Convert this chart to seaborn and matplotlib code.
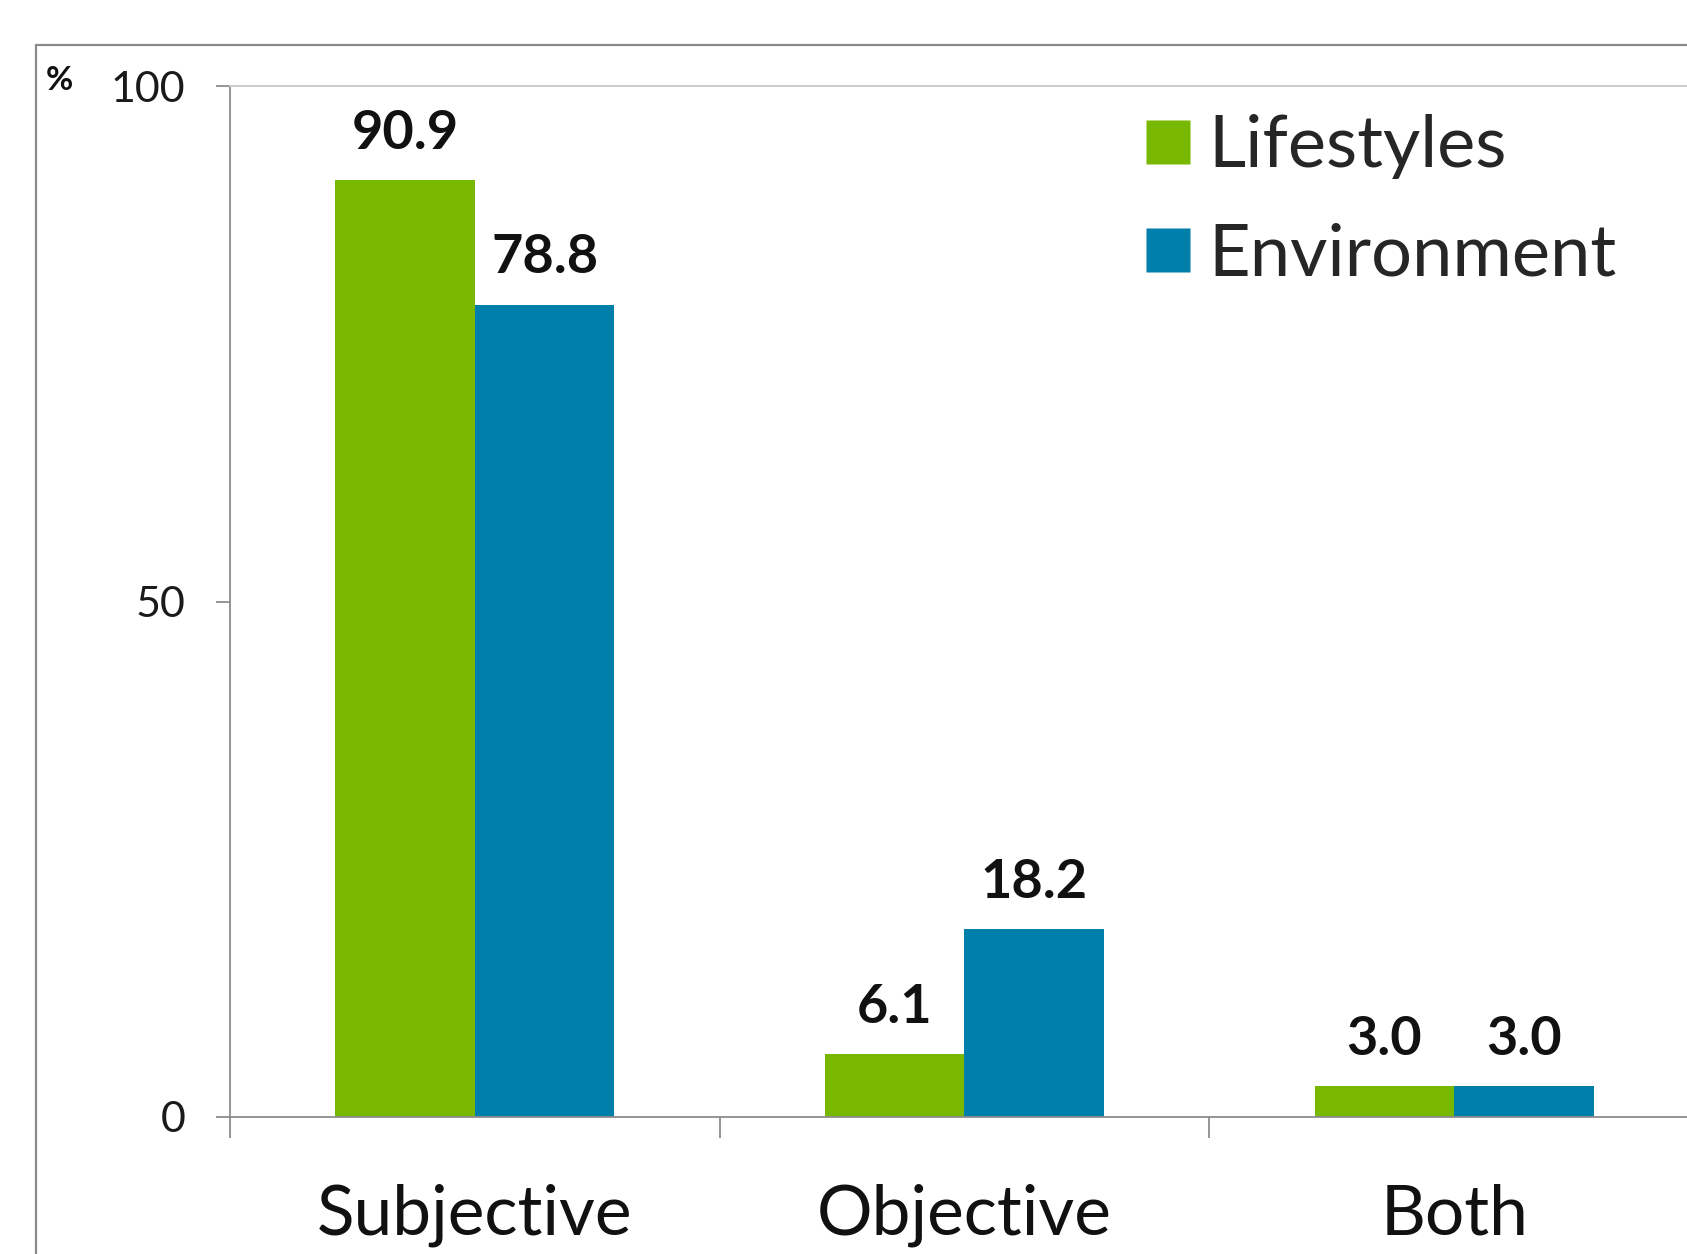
import matplotlib
matplotlib.use("Agg")
import matplotlib.pyplot as plt
from matplotlib.patches import Rectangle
from matplotlib.lines import Line2D
import seaborn as sns
import pandas as pd

categories = ["Subjective", "Objective", "Both"]
series = ["Lifestyles", "Environment"]
lifestyles = [90.9, 6.1, 3.0]
environment = [78.8, 18.2, 3.0]
y_ticks = [0, 50, 100]

colors = {"Lifestyles": "#78b800", "Environment": "#007fab"}

df = pd.DataFrame({
    "category": categories * 2,
    "group": [series[0]] * 3 + [series[1]] * 3,
    "value": lifestyles + environment,
})

sns.set_theme(style="white")
plt.rcParams["font.family"] = ["Lato", "DejaVu Sans"]

W, H = 1687, 1254
fig = plt.figure(figsize=(W / 100, H / 100), dpi=100)
ax = fig.add_axes([230 / W, 1 - 1117 / H, (1699 - 230) / W, (1117 - 86) / H])

sns.barplot(data=df, x="category", y="value", hue="group", order=categories,
            hue_order=series, palette=colors, width=0.57, saturation=1,
            edgecolor="none", linewidth=0, ax=ax, legend=False)

for cont in ax.containers:
    ax.bar_label(cont, fmt="%.1f", padding=16, fontsize=39, fontweight="bold",
                 color="#111111")

ax.set_ylim(0, 100)
ax.set_xlim(-0.5, 2.5)
ax.set_yticks(y_ticks)
ax.set_yticklabels([str(v) for v in y_ticks])
ax.set_xlabel("")
ax.set_ylabel("")

gray = "#8c8c8c"
for side in ["left", "bottom"]:
    ax.spines[side].set_visible(True)
    ax.spines[side].set_color(gray)
    ax.spines[side].set_linewidth(1.3)
ax.spines["top"].set_visible(True)
ax.spines["top"].set_color("#c8c8c8")
ax.spines["top"].set_linewidth(1.3)
ax.spines["right"].set_visible(False)

ax.tick_params(axis="y", which="major", direction="out", length=10, width=1.3,
               color=gray, pad=22, labelsize=31, labelcolor="#1a1a1a", left=True)
ax.set_xticks([0, 1, 2])
ax.set_xticks([-0.5, 0.5, 1.5], minor=True)
ax.tick_params(axis="x", which="major", length=0, pad=48, labelsize=50,
               labelcolor="#111111")
ax.tick_params(axis="x", which="minor", direction="out", length=15, width=1.3,
               color=gray, bottom=True)

# chart frame
fig.patches.append(Rectangle((36 / W, -0.2), 1.5, 1 - 45 / H + 0.2,
                             transform=fig.transFigure, fill=False,
                             edgecolor="#8a8a8a", linewidth=1.6, zorder=0))

fig.text(59 / W, 1 - 81 / H, "%", fontsize=24, fontweight="bold",
         ha="center", va="center", color="#111111")

handles = [Line2D([], [], marker="s", linestyle="none", markersize=32,
                  markerfacecolor=colors[s], markeredgecolor="none") for s in series]
fig.legend(handles, series, loc="upper left",
           bbox_to_anchor=(1135 / W, 1 - 114 / H), frameon=False,
           fontsize=52, handletextpad=0.12, labelspacing=0.6,
           handlelength=0.9, borderpad=0, borderaxespad=0)

fig.savefig("out.png", dpi=100, facecolor="white")
